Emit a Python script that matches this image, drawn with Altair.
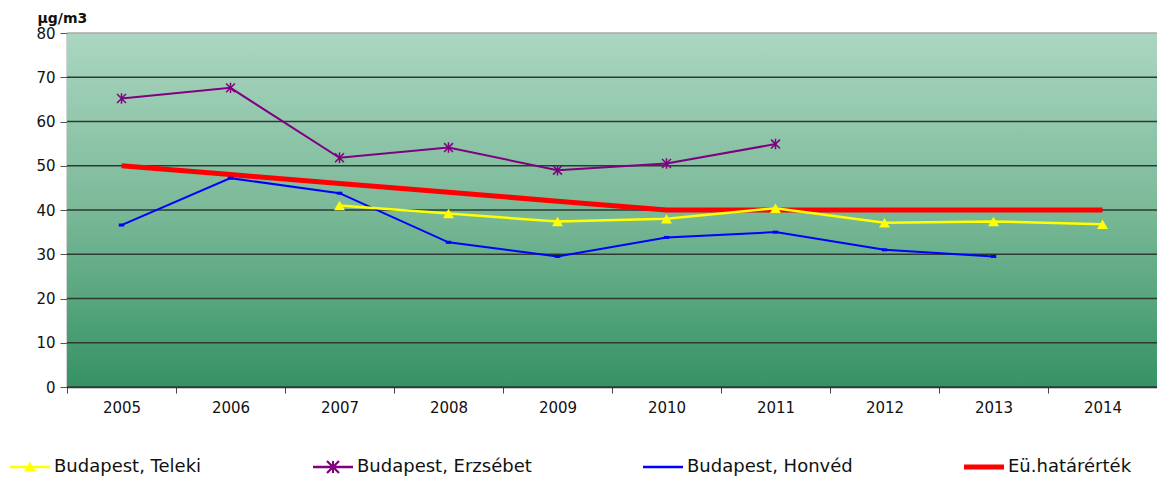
import altair as alt
import pandas as pd

years = [2005, 2006, 2007, 2008, 2009, 2010, 2011, 2012, 2013, 2014]
teleki = [None, None, 41.0, 39.2, 37.4, 38.0, 40.4, 37.1, 37.4, 36.8]
erzsebet = [65.2, 67.6, 51.8, 54.1, 49.0, 50.5, 54.9, None, None, None]
honved = [36.6, 47.2, 43.8, 32.7, 29.5, 33.8, 35.0, 31.0, 29.5, None]
limit = [50, 48, 46, 44, 42, 40, 40, 40, 40, 40]
names = ["Budapest, Teleki", "Budapest, Erzsébet", "Budapest, Honvéd", "Eü.határérték"]
colors = ["#ffff00", "#800080", "#0000ff", "#ff0000"]
y_ticks = [0, 10, 20, 30, 40, 50, 60, 70, 80]
unit = "µg/m3"

rows = []
for name, vals in zip(names, [teleki, erzsebet, honved, limit]):
    for yr, v in zip(years, vals):
        if v is not None:
            rows.append({"year": yr, "value": v, "series": name})
df = pd.DataFrame(rows)
grid_df = pd.DataFrame({"v": y_ticks})
bg_df = pd.DataFrame({"top": [max(y_ticks)], "bot": [min(y_ticks)]})

W, H = 1090, 354
FONT = "DejaVu Sans"

yscale = alt.Scale(domain=[0, 80], nice=False)
yaxis = alt.Axis(values=y_ticks, grid=False, tickSize=7, tickColor="#555555",
                 domainColor="#555555", domainWidth=1.5, labelFont=FONT,
                 labelFontSize=15, labelColor="#111111", labelPadding=5,
                 titleAngle=0, titleX=-30, titleY=-22, titleAlign="left",
                 titleBaseline="top", titleFont=FONT, titleFontSize=14,
                 titleFontWeight="bold", titleColor="#111111")
xscale = alt.Scale(type="band", paddingInner=0, paddingOuter=0)
xaxis = alt.Axis(labelAngle=0, tickBand="extent", tickSize=6, tickColor="#444444",
                 domainColor="#333333", domainWidth=1.5, labelFont=FONT,
                 labelFontSize=15, labelColor="#111111", labelPadding=7,
                 grid=False)

P_LINE = "M-1,-0.06L1,-0.06L1,0.06L-1,0.06Z"
P_THICK = "M-1,-0.13L1,-0.13L1,0.13L-1,0.13Z"
P_TRI = P_LINE + "M-0.3,0.22L0,-0.27L0.3,0.22Z"
P_AST = (P_LINE + "M-0.05,-0.3L0.05,-0.3L0.05,0.3L-0.05,0.3Z"
         "M-0.26,-0.34L0.34,0.26L0.26,0.34L-0.34,-0.26Z"
         "M-0.34,0.26L0.26,-0.34L0.34,-0.26L-0.26,0.34Z")
legend_shapes = [P_TRI, P_AST, P_LINE, P_THICK]

leg = alt.Legend(orient="none", legendX=-57, legendY=414, direction="horizontal",
                 columns=4, columnPadding=111, symbolSize=1600,
                 labelFont=FONT, labelFontSize=18, symbolStrokeWidth=0,
                 labelColor="#111111", labelOffset=4, labelLimit=400,
                 symbolOpacity=1)

bg = alt.Chart(bg_df).mark_rect(
    color=alt.Gradient(gradient="linear",
                       stops=[alt.GradientStop(color="#abd6c1", offset=0),
                              alt.GradientStop(color="#7ab998", offset=0.5),
                              alt.GradientStop(color="#359264", offset=1)],
                       x1=0, x2=0, y1=0, y2=1)
).encode(
    y=alt.Y("top:Q", scale=yscale, axis=yaxis, title=unit),
    y2="bot:Q",
)

grid = alt.Chart(grid_df).mark_rule(strokeWidth=1.7).encode(
    y=alt.Y("v:Q", scale=yscale, axis=yaxis, title=unit),
    color=alt.condition("datum.v == 80", alt.value("#a8a8a8"), alt.value("#2c3a32")),
)

base = alt.Chart(df)
X = alt.X("year:O", scale=xscale, axis=xaxis, bandPosition=0.5, title=None)
Y = alt.Y("value:Q", scale=yscale, axis=yaxis, title=unit)


def series(i):
    return base.transform_filter(alt.datum.series == names[i])


red_line = series(3).mark_line(strokeWidth=5, color=colors[3]).encode(x=X, y=Y)
blue_line = series(2).mark_line(strokeWidth=2, color=colors[2]).encode(x=X, y=Y)
purple_line = series(1).mark_line(strokeWidth=2, color=colors[1]).encode(x=X, y=Y)
yellow_line = series(0).mark_line(strokeWidth=2.5, color=colors[0]).encode(x=X, y=Y)

tri = series(0).mark_point(
    shape="triangle-up", filled=True, size=120, color=colors[0], opacity=1
).encode(x=X, y=Y)
ast = series(1).mark_point(
    shape="M0,-1L0,1M-0.85,-0.85L0.85,0.85M-0.85,0.85L0.85,-0.85",
    filled=False, size=110, color=colors[1], strokeWidth=1.5, opacity=1
).encode(x=X, y=Y)
dash = series(2).mark_point(
    shape="M-1,0L1,0", filled=False, size=30, color=colors[2], strokeWidth=3,
    opacity=1
).encode(x=X, y=Y)

legend_layer = base.transform_filter("false").mark_point(
    filled=True, size=1600, strokeWidth=0, opacity=1
).encode(
    x=X, y=Y,
    color=alt.Color("series:N", scale=alt.Scale(domain=names, range=colors),
                    legend=leg, title=None),
    shape=alt.Shape("series:N", scale=alt.Scale(domain=names, range=legend_shapes),
                    legend=leg, title=None),
)

chart = alt.layer(bg, grid, red_line, blue_line, purple_line, yellow_line,
                  tri, ast, dash, legend_layer).properties(
    width=W, height=H,
    padding={"left": 59, "top": 25, "right": 0, "bottom": 90},
    autosize=alt.AutoSizeParams(type="none"),
    background="white",
).configure_view(strokeWidth=0)

chart.save("out.html", embed_options={"renderer": "svg", "actions": False})
